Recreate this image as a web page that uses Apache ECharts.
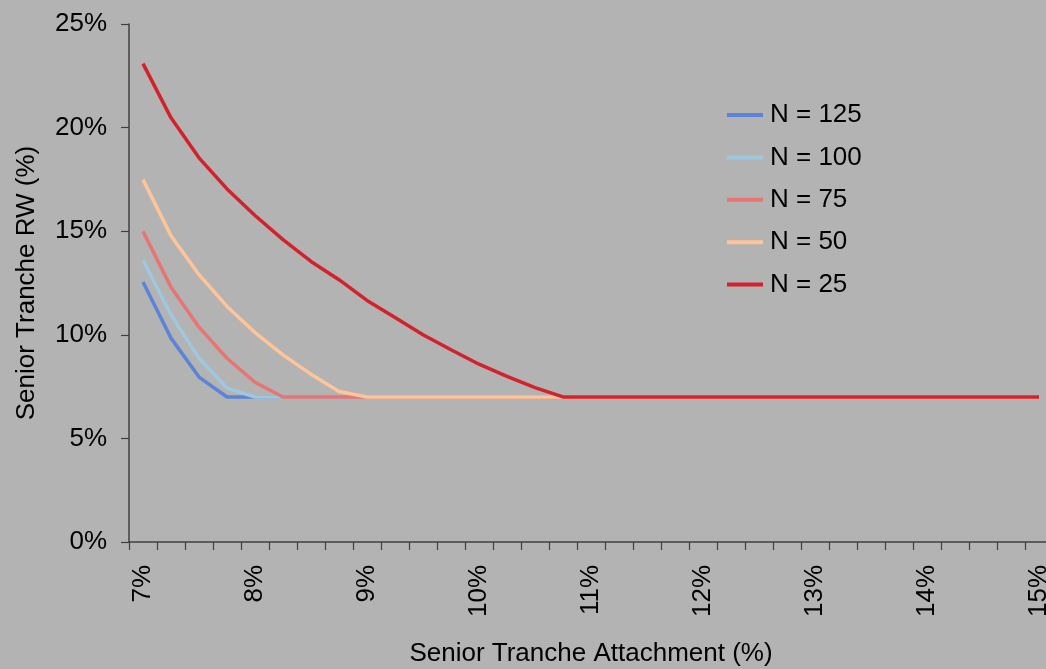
<!DOCTYPE html>
<html>
<head>
<meta charset="utf-8">
<script src="https://cdn.jsdelivr.net/npm/echarts@6/dist/echarts.min.js"></script>
<style>
html,body{margin:0;padding:0;background:#b3b3b3;}
#chart{width:1046px;height:669px;}
</style>
</head>
<body>
<div id="chart"></div>
<script>
// Senior tranche attachment (%) categories
var attachment = [7, 7.25, 7.5, 7.75, 8, 8.25, 8.5, 8.75, 9, 9.25, 9.5, 9.75, 10, 10.25, 10.5, 10.75,
  11, 11.25, 11.5, 11.75, 12, 12.25, 12.5, 12.75, 13, 13.25, 13.5, 13.75, 14, 14.25, 14.5, 14.75, 15];

var seriesNames = ['N = 125', 'N = 100', 'N = 75', 'N = 50', 'N = 25'];

var n125 = [12.55, 9.84, 7.96, 7, 7, 7, 7, 7, 7, 7, 7, 7, 7, 7, 7, 7, 7, 7, 7, 7, 7, 7, 7, 7, 7, 7, 7, 7, 7, 7, 7, 7, 7];
var n100 = [13.59, 10.97, 8.87, 7.43, 7, 7, 7, 7, 7, 7, 7, 7, 7, 7, 7, 7, 7, 7, 7, 7, 7, 7, 7, 7, 7, 7, 7, 7, 7, 7, 7, 7, 7];
var n75  = [14.99, 12.3, 10.37, 8.87, 7.71, 7, 7, 7, 7, 7, 7, 7, 7, 7, 7, 7, 7, 7, 7, 7, 7, 7, 7, 7, 7, 7, 7, 7, 7, 7, 7, 7, 7];
var n50  = [17.49, 14.78, 12.9, 11.37, 10.11, 9.03, 8.1, 7.26, 7, 7, 7, 7, 7, 7, 7, 7, 7, 7, 7, 7, 7, 7, 7, 7, 7, 7, 7, 7, 7, 7, 7, 7, 7];
var n25  = [23.09, 20.47, 18.54, 17.04, 15.76, 14.59, 13.54, 12.66, 11.66, 10.84, 10.0, 9.28, 8.58, 7.99, 7.45, 7,
  7, 7, 7, 7, 7, 7, 7, 7, 7, 7, 7, 7, 7, 7, 7, 7, 7];

var yTicks = [0, 5, 10, 15, 20, 25];

var colors = ['#5b84d8', '#9fc7de', '#e87474', '#ffc49a', '#d2222b'];
var allData = [n125, n100, n75, n50, n25];

var font = 'Liberation Sans, Arial, sans-serif';

var chart = echarts.init(document.getElementById('chart'), null, {renderer: 'canvas'});

var series = seriesNames.map(function (name, k) {
  return {
    name: name,
    type: 'line',
    data: allData[k],
    symbol: 'none',
    smooth: false,
    lineStyle: {color: colors[k], width: 3.5},
    itemStyle: {color: colors[k]},
    z: 2 + k,
    animation: false
  };
});

chart.setOption({
  backgroundColor: '#b3b3b3',
  animation: false,
  textStyle: {fontFamily: font},
  grid: {left: 129, top: 24, width: 924, bottom: 127, containLabel: false, outerBoundsMode: 'none'},
  legend: {
    orient: 'vertical',
    left: 727,
    top: 102,
    padding: 0,
    itemWidth: 36,
    itemHeight: 26,
    itemGap: 16.4,
    data: seriesNames,
    textStyle: {fontSize: 26, color: '#000', fontFamily: font, padding: [0, 0, 0, 2]},
    icon: 'path://M0,11 L36,11 L36,15 L0,15 Z'
  },
  xAxis: {
    type: 'category',
    data: attachment,
    boundaryGap: true,
    name: 'Senior Tranche Attachment (%)',
    nameLocation: 'middle',
    nameGap: 99,
    nameTextStyle: {fontSize: 26, color: '#000', fontFamily: font},
    axisLine: {show: true, lineStyle: {color: '#404040', width: 1.5}},
    axisTick: {show: true, interval: 0, length: 8, lineStyle: {color: '#404040', width: 1.2}},
    axisLabel: {
      interval: 3,
      rotate: 90,
      margin: 23,
      fontSize: 26,
      color: '#000',
      fontFamily: font,
      hideOverlap: false,
      formatter: function (v) { return v + '%'; }
    },
    splitLine: {show: false}
  },
  yAxis: {
    type: 'value',
    min: yTicks[0],
    max: yTicks[yTicks.length - 1],
    interval: 5,
    name: 'Senior Tranche RW (%)',
    nameLocation: 'middle',
    nameGap: 89,
    nameRotate: 90,
    nameTextStyle: {fontSize: 26, color: '#000', fontFamily: font},
    axisLine: {show: true, lineStyle: {color: '#404040', width: 1.5}},
    axisTick: {show: true, length: 8, lineStyle: {color: '#404040', width: 1.2}},
    axisLabel: {
      margin: 22,
      fontSize: 26,
      color: '#000',
      fontFamily: font,
      formatter: '{value}%'
    },
    splitLine: {show: false}
  },
  series: series
});
</script>
</body>
</html>
